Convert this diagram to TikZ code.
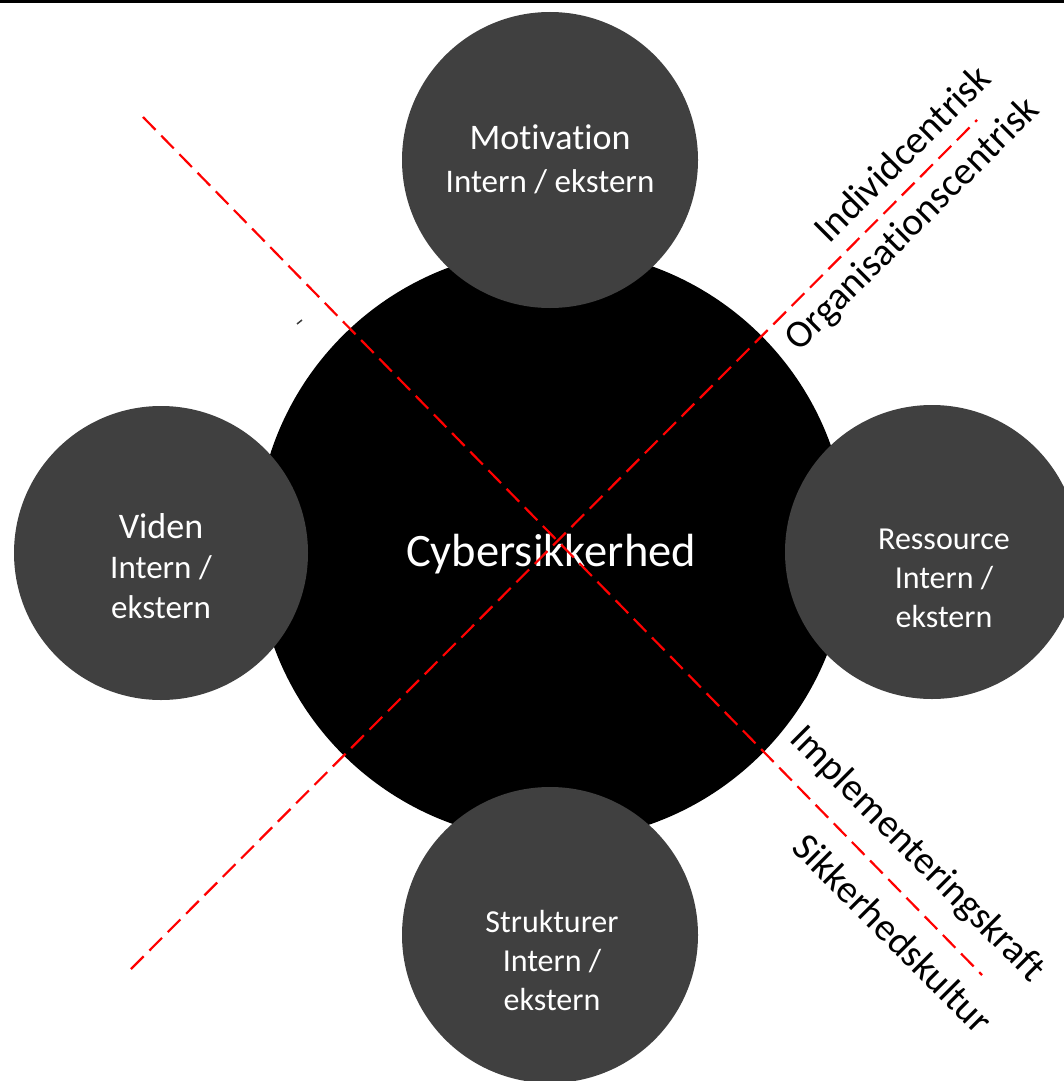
\documentclass[tikz,border=0pt]{standalone}
\usepackage{fontspec}
\setmainfont{Carlito}[Ligatures=NoCommon]
\definecolor{satgray}{HTML}{404040}
\definecolor{axisred}{HTML}{FF0000}

\begin{document}
\begin{tikzpicture}[x=1pt, y=-1pt,
  satellite/.style={fill=satgray},
  sattext/.style={text=white, align=center, inner sep=0pt},
  axisline/.style={draw=axisred, line width=2.2pt, dash pattern=on 18pt off 8pt},
  axislabel/.style={inner sep=0pt, font=\fontsize{39}{47}\selectfont}]
  \useasboundingbox (0,0) rectangle (1064,1081);

  \fill (0,0) rectangle (1064,3);

  %-------------
  \fill (552,545) circle[radius=296pt];
  \node[sattext, font=\fontsize{46.5}{55}\selectfont] (cyber) at (551,554) {Cybersikkerhed};

  %-------------
  \fill[satellite] (550,160) circle[radius=148pt];
  \node[sattext, font=\fontsize{33}{43}\selectfont] (motiv) at (550,159)
    {{\fontsize{36}{43}\selectfont Motivation}\\Intern / ekstern};

  \fill[satellite] (161,553) circle[radius=147pt];
  \node[sattext, font=\fontsize{33}{40}\selectfont] (viden) at (161,566)
    {{\fontsize{36}{40}\selectfont Viden}\\Intern /\\ekstern};

  \fill[satellite] (932,552) circle[radius=147pt];
  \node[sattext, font=\fontsize{32}{39}\selectfont] (ress) at (944,578)
    {Ressource\\Intern /\\ekstern};

  \fill[satellite] (550,935) circle[radius=148pt];
  \node[sattext, font=\fontsize{32}{39}\selectfont] (struk) at (552,960)
    {Strukturer\\Intern /\\ekstern};

  %-------------
  \coordinate (a1) at (143,117);
  \coordinate (a2) at (982,975);
  \coordinate (b1) at (131,969);
  \coordinate (b2) at (977,120);
  \draw[axisline] (a1) -- (a2);
  \draw[axisline] (b1) -- (b2);

  \draw[satgray, line width=1.5pt] (297,324) -- (302,320);

  %-------------
  \node[axislabel, rotate=45] (indiv) at (902,153) {Individcentrisk};
  \node[axislabel, rotate=45] (organ) at (913,225) {Organisationscentrisk};
  \node[axislabel, rotate=-45] (impl) at (917,855) {Implementeringskraft};
  \node[axislabel, rotate=-45] (sikk) at (893,933) {Sikkerhedskultur};

\end{tikzpicture}
\end{document}
